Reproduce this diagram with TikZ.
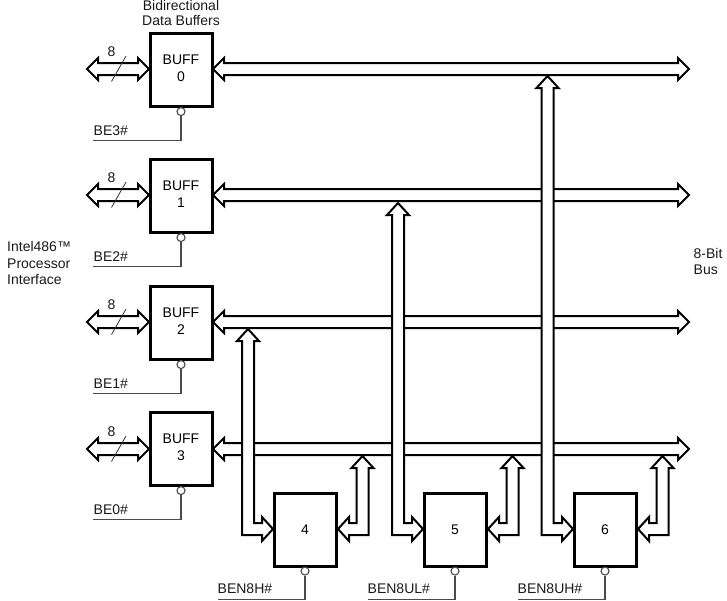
\documentclass[tikz,border=0pt]{standalone}
\usepackage{fontspec}
\setmainfont{Liberation Sans}
\usetikzlibrary{calc}
\definecolor{wire}{HTML}{4A4A4A}
\tikzset{
  x=1pt,y=-1pt,
  box/.style={draw=black,line width=3pt,fill=white,minimum width=62pt,minimum height=73pt,inner sep=0pt,
    align=center,font=\fontsize{14}{17}\selectfont},
  lab/.style={inner sep=0pt,font=\fontsize{14}{16.5}\selectfont,text=black!90},
  busline/.style={draw=black,line width=2pt,fill=white,miter limit=4},
  wireline/.style={draw=wire,line width=1.1pt},
  bubble/.style={circle,draw=wire,line width=1.1pt,fill=white,minimum size=8pt,inner sep=0pt},
  slash/.style={draw=black!80,line width=.8pt}
}
% horizontal double-headed bus, tips at named points A (left) and B (right)
\newcommand{\hbus}[2]{\draw[busline] (#1) -- ($(#1)+(11,-11)$) -- ($(#1)+(11,-6)$) -- ($(#2)+(-11,-6)$) -- ($(#2)+(-11,-11)$) -- (#2) -- ($(#2)+(-11,11)$) -- ($(#2)+(-11,6)$) -- ($(#1)+(11,6)$) -- ($(#1)+(11,11)$) -- cycle;}
% L-shaped feeder: tip U upward on a bus, tip S sideways on a box (dir +1 points right, -1 points left)
\newcommand{\lbus}[3]{\draw[busline] (#1) -- ($(#1)+(11,12)$) -- ($(#1)+(6,12)$) -- ($(#1|-#2)+(6,{-6*#3})$) -- ($(#2)+({-11*#3},{-6*#3})$) -- ($(#2)+({-11*#3},{-12*#3})$) -- (#2) -- ($(#2)+({-11*#3},{12*#3})$) -- ($(#2)+({-11*#3},{6*#3})$) -- ($(#1|-#2)+(-6,{6*#3})$) -- ($(#1)+(-6,12)$) -- ($(#1)+(-11,12)$) -- cycle;}
\begin{document}
\begin{tikzpicture}
\useasboundingbox (0,0) rectangle (727,600);
% bus end points
\foreach \n/\y in {0/69,1/195,2/322,3/449}{
  \coordinate (busL\n) at (213,\y);
  \coordinate (busR\n) at (689,\y);
  \coordinate (procL\n) at (87,\y);
  \coordinate (procR\n) at (149,\y);
  \hbus{busL\n}{busR\n}
  \hbus{procL\n}{procR\n}
}
% buffers
\foreach \n/\y/\be in {0/70/BE3\#,1/196/BE2\#,2/323/BE1\#,3/449/BE0\#}{
  \node[box] (buff\n) at (181,\y) {\raisebox{1.5pt}{\begin{tabular}{@{}c@{}}BUFF\\\n\end{tabular}}};
  \node[bubble,anchor=north] (bub\n) at ($(buff\n.south)+(0,-1)$) {};
  \coordinate (corner\n) at ($(bub\n.south)+(0,24.5)$);
  \coordinate (wend\n) at ($(corner\n)+(-88,0)$);
  \draw[wireline] (bub\n.south) -- (corner\n) -- (wend\n);
  \node[lab,anchor=south west] at ($(wend\n)+(0.5,-5)$) {\be};
  \coordinate (sa\n) at ($(procL\n)+(24.5,12.5)$);
  \coordinate (sb\n) at ($(procL\n)+(39,-13)$);
  \draw[slash] (sa\n) -- (sb\n);
  \node[lab] at ($(procL\n)+(24.5,-17)$) {8};
}
% lower boxes
\foreach \n/\x/\be in {4/305/BEN8H\#,5/455/BEN8UL\#,6/605/BEN8UH\#}{
  \node[box] (b\n) at (\x,529.5) {\n};
  \node[bubble,anchor=north] (bub\n) at ($(b\n.south)+(0,-1)$) {};
  \coordinate (corner\n) at ($(bub\n.south)+(0,23.5)$);
  \coordinate (wend\n) at ($(corner\n)+(-87,0)$);
  \draw[wireline] (bub\n.south) -- (corner\n) -- (wend\n);
  \node[lab,anchor=south west] at ($(wend\n)+(-0.5,-5)$) {\be};
}
% feeders from boxes to buses
\coordinate (up4) at (248,329);
\coordinate (up5) at (398,203);
\coordinate (up6) at (547.5,76);
\coordinate (in4) at (273,529);
\coordinate (in5) at (423,529);
\coordinate (in6) at (573,529);
\lbus{up4}{in4}{1}
\lbus{up5}{in5}{1}
\lbus{up6}{in6}{1}
\coordinate (rup4) at (362.5,456);
\coordinate (rup5) at (512.5,456);
\coordinate (rup6) at (662.5,456);
\coordinate (out4) at (338,529);
\coordinate (out5) at (488,529);
\coordinate (out6) at (638,529);
\lbus{rup4}{out4}{-1}
\lbus{rup5}{out5}{-1}
\lbus{rup6}{out6}{-1}
% labels
\node[lab,align=center,font=\fontsize{14}{15}\selectfont] (title) at (181,13) {Bidirectional\\Data Buffers};
\node[lab,align=left,anchor=west] (proc) at (7,263) {Intel486™\\Processor\\Interface};
\node[lab,align=left,anchor=west] (bus8) at (693.5,261.5) {8-Bit\\Bus};
\end{tikzpicture}
\end{document}
